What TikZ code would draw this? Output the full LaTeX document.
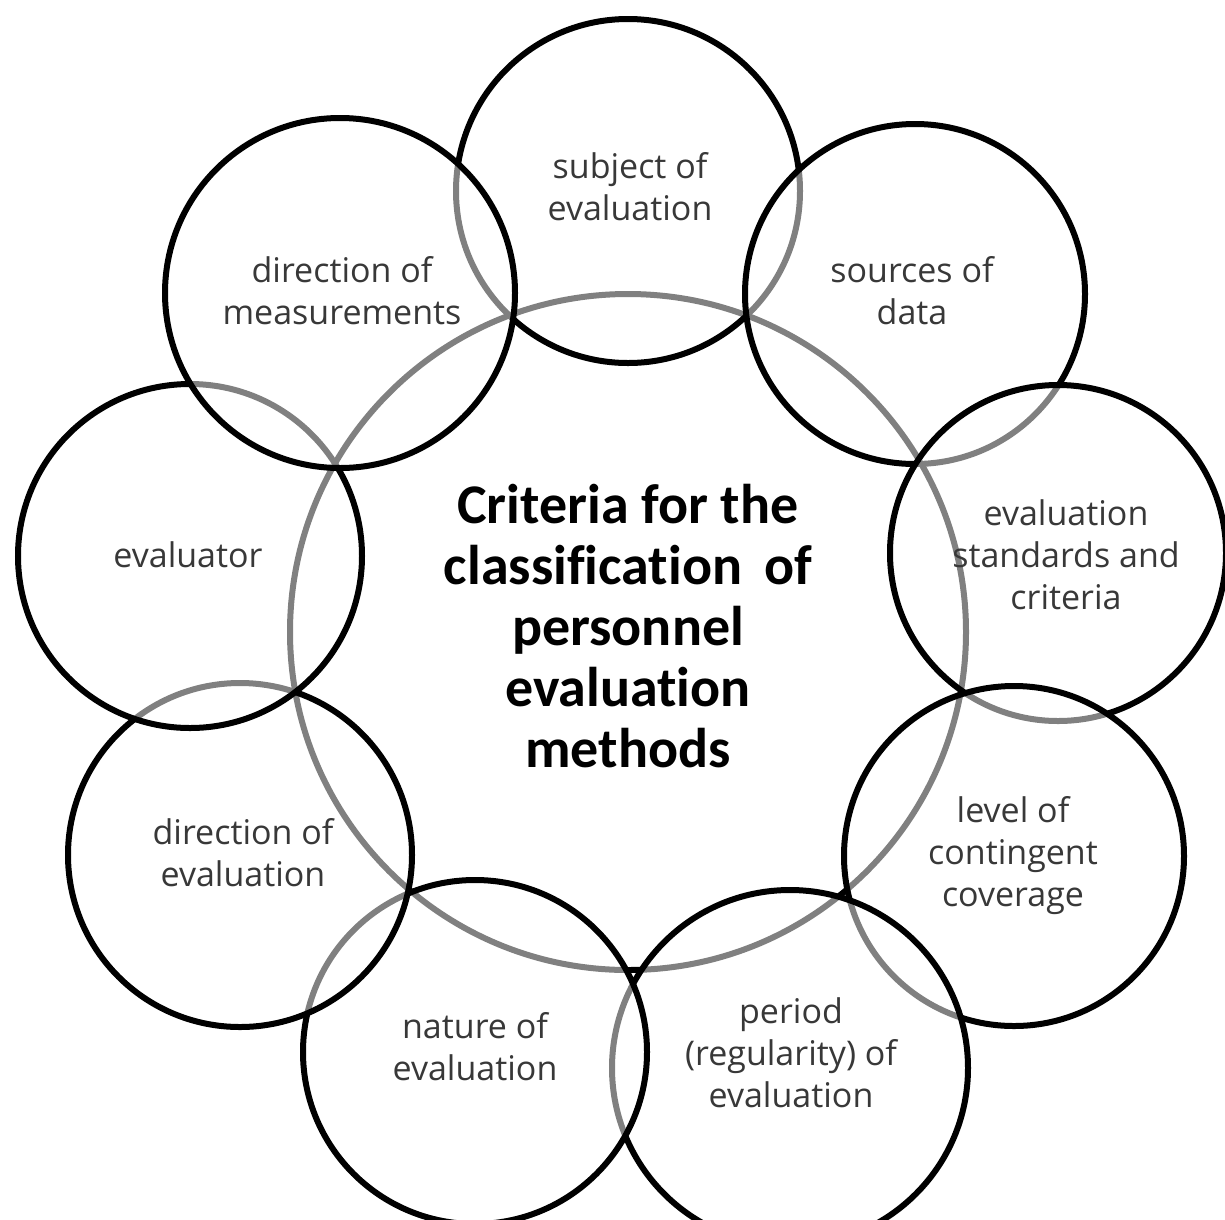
\documentclass[tikz,border=0pt]{standalone}
\usepackage{fontspec}
\newfontfamily\leaffont{Open Sans}
\newfontfamily\hubfont{Carlito}[Ligatures={NoCommon}]
\begin{document}
\begin{tikzpicture}[x=1pt,y=-1pt,
  ring/.style={circle, draw=black, line width=6pt, fill=white,
    fill opacity=0.5, draw opacity=1, inner sep=0pt, minimum size=#1},
  ring/.default=344pt,
  leaf/.style={font={\leaffont\fontsize{34}{42}\selectfont}, text=black!78,
    align=center, inner sep=0pt},
  hubtext/.style={font={\hubfont\bfseries\fontsize{56}{61}\selectfont},
    text=black, align=center, inner sep=0pt}]
\useasboundingbox (0,0) rectangle (1225,1219);
\fill[white] (0,0) rectangle (1225,1219);

% central circle, later washed to grey by the surrounding rings
\node[circle, draw=black, line width=6pt, inner sep=0pt, minimum size=676pt]
  (hub) at (628,632) {};

% surrounding rings, each one veiling the outline of the one before it
\node[ring]          (subject)  at (628,191)  {};
\node[ring=340pt]    (sources)  at (915,294)  {};
\node[ring=336pt]    (standards) at (1058,553) {};
\node[ring=340pt]    (level)    at (1014,856) {};
\node[ring=356pt]    (period)   at (790,1068) {};
\node[ring]          (nature)   at (475,1052) {};
\node[ring]          (direval)  at (240,855)  {};
\node[ring]          (evaluator) at (190,556) {};
\node[ring=350pt]    (dirmeas)  at (340,293)  {};

% labels
\node[leaf] (tsubject)   at (630,187)  {subject of\\evaluation};
\node[leaf] (tsources)   at (912,291)  {sources of\\data};
\node[leaf] (tstandards) at (1066,555) {evaluation\\standards and\\criteria};
\node[leaf] (tlevel)     at (1013,856) {level of\\contingent\\coverage};
\node[leaf] (tperiod)    at (791,1053) {period\\(regularity) of\\evaluation};
\node[leaf] (tnature)    at (475,1047) {nature of\\evaluation};
\node[leaf] (tdireval)   at (243,853)  {direction of\\evaluation};
\node[leaf] (tevaluator) at (188,555)  {evaluator};
\node[leaf] (tdirmeas)   at (342,291)  {direction of\\measurements};

\node[hubtext] (thub) at (628,626)
  {Criteria for the\\classification\ \,of\\personnel\\evaluation\\methods};
\end{tikzpicture}
\end{document}
